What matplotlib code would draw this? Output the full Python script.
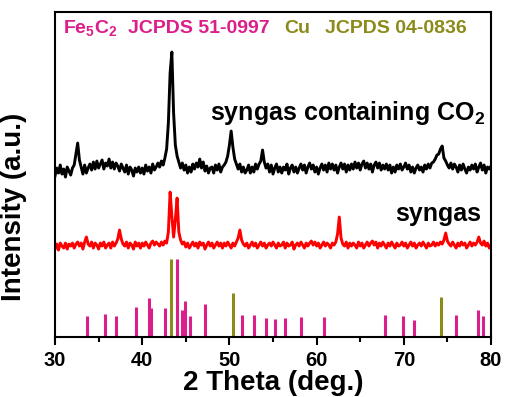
import numpy as np
import matplotlib
matplotlib.use("Agg")
import matplotlib.pyplot as plt
from matplotlib.ticker import MultipleLocator

plt.rcParams['font.family'] = ['Liberation Sans', 'DejaVu Sans']
plt.rcParams['font.weight'] = 'bold'
plt.rcParams['mathtext.fontset'] = 'custom'
plt.rcParams['mathtext.rm'] = 'Liberation Sans:bold'
plt.rcParams['mathtext.it'] = 'Liberation Sans:bold'
plt.rcParams['mathtext.bf'] = 'Liberation Sans:bold'

# 2theta grid of the scans (0.2 deg step)
two_theta = np.round(np.arange(30, 80.01, 0.2), 1)

# syngas containing CO2 (black), intensity above its baseline
co2_counts = [
    -5, 3, -2, 6, -3, 2, -6, 4, 0, -4,      # 30
    3, 6, 17, 28, 11, 4, -3, 6, -2, 3,      # 32
    7, 1, 9, 2, 10, 3, 7, 11, 2, 8,         # 34
    5, 12, 3, 9, 2, 8, 5, 0, 7, 3,          # 36
    -1, 6, -3, 4, 1, -5, 3, -1, 4, -2,      # 38
    3, -3, 6, 0, 4, -2, 7, 1, 4, 8,         # 40
    4, 10, 6, 13, 22, 48, 98, 119, 58, 26,  # 42
    15, 9, 3, 8, 1, 6, -2, 4, -1, 7,        # 44
    2, 8, 4, 12, 3, 9, 0, 5, -2, 3,         # 46
    4, -2, 6, 1, 7, -1, 4, 6, 9, 15,        # 48
    26, 40, 24, 12, 7, 2, 7, -1, 4, -2,     # 50
    1, 6, -2, 4, -1, 7, 2, 7, 10, 21,       # 52
    9, 3, 7, -1, 6, -3, 3, 7, -1, 4,        # 54
    -2, 4, 1, 7, -3, 3, 6, -1, 4, -2,       # 56
    3, 7, 1, 6, -2, 4, 8, 2, 6, -1,         # 58
    4, -3, 3, 7, 1, 6, -1, 8, 2, 7,         # 60
    1, 6, -2, 4, 8, 2, 7, -1, 6, 1,         # 62
    7, 2, 9, 3, 8, 1, 7, 10, 3, 8,          # 64
    2, 7, -1, 6, 9, 3, 8, 1, 6, 2,          # 66
    7, 1, 6, -2, 4, -1, 6, 2, 7, 1,         # 68
    4, 8, 2, 6, -1, 4, -2, 3, 6, 1,         # 70
    4, -1, 6, 2, 7, 3, 8, 9, 12, 16,        # 72
    17, 22, 25, 13, 10, 6, 3, 8, 2, 7,      # 74
    4, -1, 6, 1, 7, 2, -2, 4, 1, 6,         # 76
    2, 7, -1, 4, 8, 1, 6, -2, 4, 2,         # 78
    5,
]

# syngas (red), intensity above its baseline
syngas_counts = [
    -3, 2, -4, 3, 0, -2, 3, -3, 2, 0,       # 30
    3, -2, 2, 4, 0, 3, -3, 4, 9, 2,         # 32
    0, 4, -2, 3, 1, -3, 3, 0, 4, -2,        # 34
    1, 3, -2, 4, 0, 3, 7, 16, 7, 2,         # 36
    0, 4, -2, 3, 1, -3, 4, 0, 3, -2,        # 38
    3, 0, 4, 1, -2, 3, 5, 1, 4, 2,          # 40
    0, 4, 1, 5, 3, 14, 54, 30, 9, 26,       # 42
    48, 14, 6, 2, 4, -1, 3, -2, 1, 4,       # 44
    0, 3, -2, 4, 1, 3, -3, 1, 4, 0,         # 46
    3, -2, 1, 4, 0, 3, -2, 3, 0, 4,         # 48
    1, -2, 3, 0, 4, 8, 16, 6, 2, 0,         # 50
    3, -2, 1, 4, 0, 3, -2, 1, 4, 0,         # 52
    3, -2, 1, 3, 0, 4, 1, -2, 3, 0,         # 54
    1, 4, -2, 3, 0, 1, 4, -3, 1, 3,         # 56
    0, 4, 1, -2, 3, 0, 3, 5, 1, 4,          # 58
    0, 3, -2, 1, 4, 0, 3, 1, -2, 3,         # 60
    1, 4, 12, 29, 8, 2, 0, 4, -2, 3,        # 62
    0, 3, 1, -2, 4, 0, 3, -2, 1, 4,         # 64
    0, 3, 5, 1, 4, -2, 3, 0, 4, 1,          # 66
    -2, 3, 0, 4, 1, -2, 3, 0, 1, 4,         # 68
    0, 3, -2, 1, 4, 0, 3, -2, 1, 3,         # 70
    0, 4, 1, -2, 3, 0, 1, 4, 0, 3,          # 72
    1, 4, 2, 6, 13, 5, 2, 0, 4, 1,          # 74
    -2, 3, 0, 4, 1, 3, -2, 1, 4, 0,         # 76
    3, 1, 4, 9, 3, 1, 5, 0, 3, -2,          # 78
    1,
]

co2_offset = 166
syngas_offset = 91

# reference cards
fe5c2_pos = [33.67, 35.70, 37.00, 39.30, 40.74, 41.05, 42.65, 44.03, 44.60, 44.95,
             45.45, 47.17, 51.48, 52.78, 54.16, 55.19, 56.40, 58.20, 60.88, 67.80,
             69.87, 71.20, 75.95, 78.55, 79.12]
fe5c2_int = [21, 23, 21, 30, 39, 29, 29, 78, 27, 36,
             21, 33, 22, 22, 19, 18, 19, 20, 20, 22,
             21, 17, 22, 27, 21]
cu_pos = [43.27, 50.41, 74.23]
cu_int = [78, 44, 40]

magenta = '#dc1e8a'
olive = '#8b8b1a'

fig = plt.figure(figsize=(5.06, 3.97), dpi=100)
ax = fig.add_axes([0.1087, 0.151, 0.8617, 0.8187])

ax.plot(two_theta, np.array(co2_counts) + co2_offset, color='black', lw=2.1)
ax.plot(two_theta, np.array(syngas_counts) + syngas_offset, color='#ff0000', lw=2.1)

ax.vlines(fe5c2_pos, 0, fe5c2_int, color=magenta, lw=2.2)
ax.vlines(cu_pos, 0, cu_int, color=olive, lw=2.2)

ax.text(47.8, 217, 'syngas containing CO$_2$', fontsize=18, fontweight='bold')
ax.text(69.0, 116, 'syngas', fontsize=18, fontweight='bold')

ax.text(30.9, 304, 'Fe$_5$C$_2$', fontsize=14, color=magenta, fontweight='bold')
ax.text(38.4, 304, 'JCPDS 51-0997', fontsize=14, color=magenta, fontweight='bold')
ax.text(56.3, 304, 'Cu', fontsize=14, color=olive, fontweight='bold')
ax.text(61.0, 304, 'JCPDS 04-0836', fontsize=14, color=olive, fontweight='bold')

ax.set_xlim(30, 80)
ax.set_ylim(0, 325)
ax.xaxis.set_major_locator(MultipleLocator(10))
ax.xaxis.set_minor_locator(MultipleLocator(5))
ax.set_yticks([])
ax.tick_params(axis='x', which='major', direction='out', length=6, width=1.5,
               labelsize=14.5, pad=4)
ax.tick_params(axis='x', which='minor', direction='out', length=3.5, width=1.5)
for lab in ax.get_xticklabels():
    lab.set_fontweight('bold')
for s in ax.spines.values():
    s.set_linewidth(1.5)

ax.set_xlabel('2 Theta (deg.)', fontsize=20, fontweight='bold', labelpad=0)
ax.set_ylabel('Intensity (a.u.)', fontsize=20, fontweight='bold')
ax.yaxis.set_label_coords(-0.065, 0.4)

fig.savefig('out.png', dpi=100)
